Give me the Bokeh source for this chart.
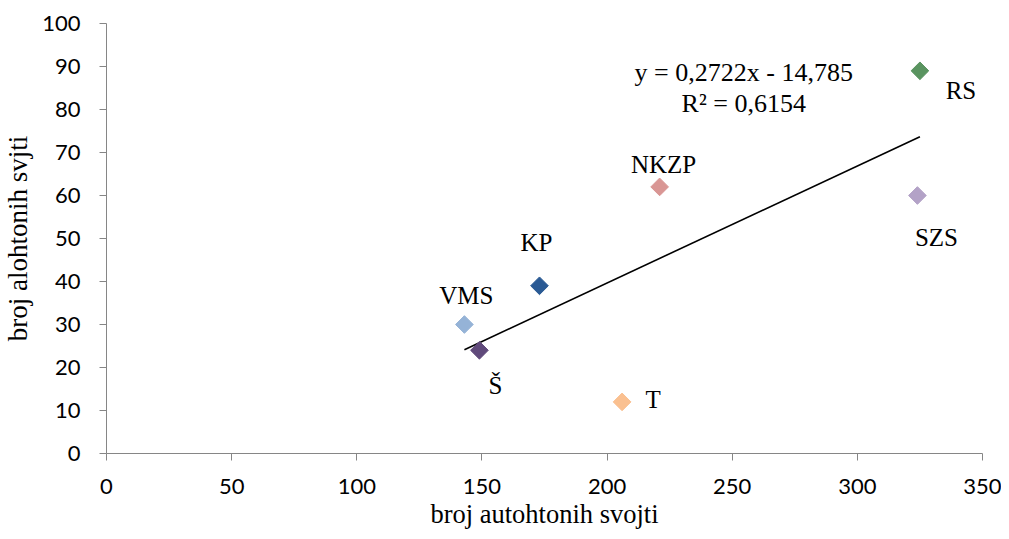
import numpy as np
from bokeh.plotting import figure
from bokeh.models import FixedTicker, ColumnDataSource, Label
from bokeh.embed import file_html
from bokeh.resources import INLINE
from bokeh.core.properties import value

# ---- data ----
names = ["VMS", "Š", "KP", "NKZP", "T", "RS", "SZS"]
autohtone = [143, 149, 173, 221, 206, 325, 324]
alohtone = [30, 24, 39, 62, 12, 89, 60]
slope = 0.2722
intercept = -14.785
r_squared = "0,6154"
x_ticks = [0, 50, 100, 150, 200, 250, 300, 350]
y_ticks = [0, 10, 20, 30, 40, 50, 60, 70, 80, 90, 100]
x_title = "broj autohtonih svojti"
y_title = "broj alohtonih svjti"

# ---- styles ----
colors = ["#95B3D7", "#604A7B", "#2A5A94", "#D99694", "#FAC090", "#5A9460", "#B3A2C7"]
label_dx = [2, 16, -3, 4, 31, 41, 19]
label_dy = [-29, 35, -43, -22, -2, 20, 42]
EQ_X, EQ_Y1, EQ_Y2 = 254.6, 88.5, 81.4

SERIF = "Liberation Serif"
SANS = "Lato"
AXIS_COLOR = "#868686"

p = figure(width=1001, height=531, x_range=(0, 350), y_range=(0, 100),
           output_backend="svg", toolbar_location=None,
           min_border_left=105, min_border_right=19, min_border_top=23, min_border_bottom=75)
p.outline_line_color = None
p.xgrid.grid_line_color = None
p.ygrid.grid_line_color = None
p.background_fill_color = "white"
p.border_fill_color = "white"

for ax, ticks in ((p.xaxis, x_ticks), (p.yaxis, y_ticks)):
    ax.ticker = FixedTicker(ticks=ticks)
    ax.axis_line_color = AXIS_COLOR
    ax.major_tick_line_color = AXIS_COLOR
    ax.minor_tick_line_color = None
    ax.major_tick_out = 7
    ax.major_tick_in = 0
    ax.major_label_text_font = SANS
    ax.major_label_text_font_size = "22px"
    ax.major_label_text_color = "black"
    ax.axis_label_text_font = SERIF
    ax.axis_label_text_font_style = "normal"
    ax.axis_label_text_color = "black"
p.xaxis.major_label_standoff = 18
p.yaxis.major_label_standoff = 19
p.xaxis.axis_label = x_title
p.yaxis.axis_label = y_title
p.xaxis.axis_label_text_font_size = "26.5px"
p.yaxis.axis_label_text_font_size = "27px"
p.xaxis.axis_label_standoff = 2
p.yaxis.axis_label_standoff = 6

# trendline
tx = np.array([min(autohtone), max(autohtone)], dtype=float)
ty = slope * tx + intercept
p.line(tx, ty, line_color="black", line_width=1.6)

src = ColumnDataSource(dict(x=autohtone, y=alohtone, name=names, color=colors,
                            dx=label_dx, dy=label_dy))
p.scatter("x", "y", source=src, marker="square", size=12.5, angle=np.pi / 4,
          fill_color="color", line_color="color")
p.text("x", "y", text="name", source=src, x_offset="dx", y_offset="dy",
       text_align="center", text_baseline="alphabetic",
       text_font=value(SERIF), text_font_size="25px", text_color="black")

sl = f"{slope:.4f}".replace(".", ",")
ic = f"{abs(intercept):.3f}".replace(".", ",")
p.add_layout(Label(x=EQ_X, y=EQ_Y1, text=f"y = {sl}x - {ic}", text_align="center",
                   text_baseline="alphabetic", text_font=SERIF, text_font_size="26px",
                   text_color="black"))
p.add_layout(Label(x=EQ_X, y=EQ_Y2, text=f"R² = {r_squared}", text_align="center",
                   text_baseline="alphabetic", text_font=SERIF, text_font_size="26px",
                   text_color="black"))

open("out.html", "w").write(file_html(p, INLINE))
